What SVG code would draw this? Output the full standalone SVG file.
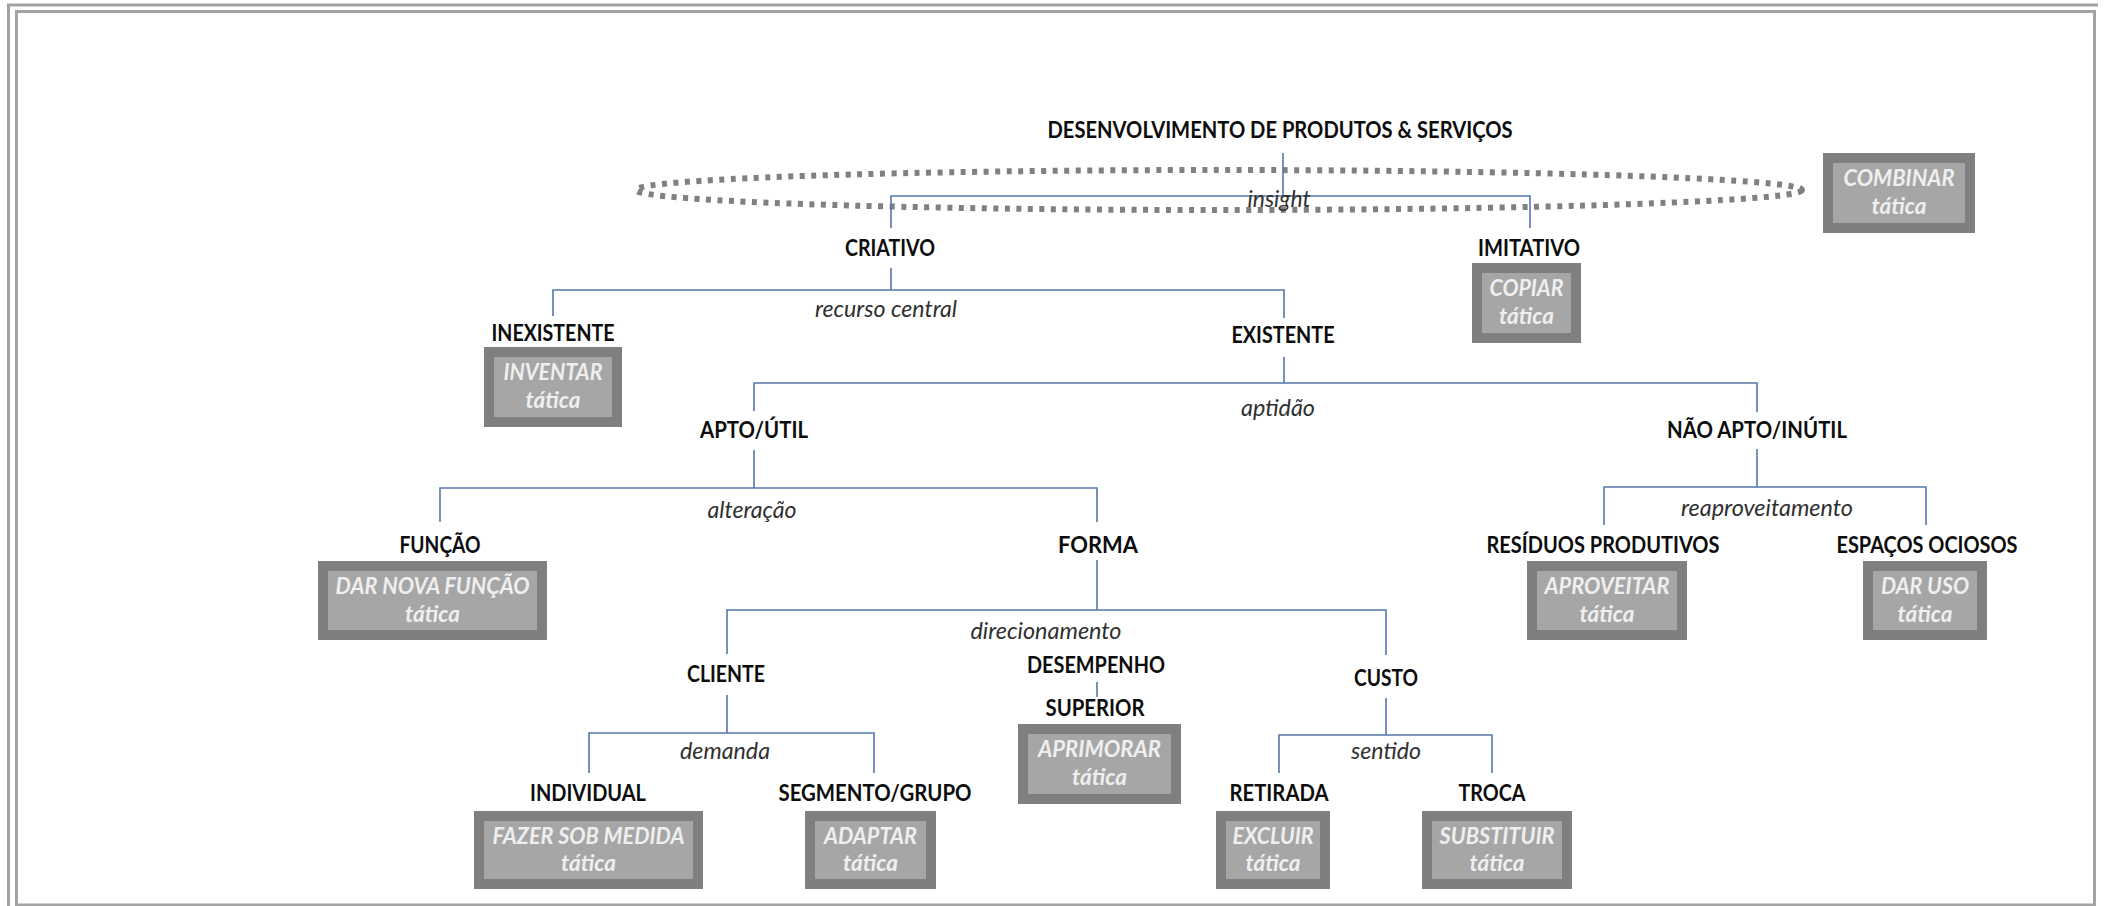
<svg xmlns="http://www.w3.org/2000/svg" width="2105" height="906" viewBox="0 0 2105 906">
<style>
.lbl{font-family:Lato,"Liberation Sans",sans-serif;font-weight:700;font-size:23px;fill:#0d0d0d;text-anchor:middle}
.it{font-family:Lato,"Liberation Sans",sans-serif;font-style:italic;font-weight:400;font-size:22.5px;fill:#303030;text-anchor:middle}
.bo{fill:#7f7f7f}
.bi{fill:#a6a6a6}
.bt{font-family:Lato,"Liberation Sans",sans-serif;font-style:italic;font-weight:700;font-size:23.5px;fill:#efefef;text-anchor:middle}
.cn{stroke:#5677ac;stroke-width:1.6;fill:none}
.frame{fill:none;stroke:#a3a3a3;stroke-width:3}
</style>
<rect x="0" y="0" width="2105" height="906" fill="#ffffff"/>
<g id="frame">
<path class="frame" d="M8.5,906 V5 H2098"/>
<rect class="frame" x="16.5" y="11.5" width="2078" height="893.5"/>
</g>
<g id="insight-ellipse">
<ellipse cx="1219" cy="190" rx="583" ry="20" fill="none" stroke="#808080" stroke-width="6" stroke-dasharray="5 6.5"/>
</g>
<g id="connectors">
<path class="cn" d="M1283,153 V196 M891,228 V196 H1530 V228"/>
<path class="cn" d="M891,268 V290 M553,316 V290 H1284 V318"/>
<path class="cn" d="M1284,357 V383 M754,411 V383 H1757 V412"/>
<path class="cn" d="M754,450 V488 M440,522 V488 H1097 V522"/>
<path class="cn" d="M1757,449 V487 M1604,525 V487 H1926 V525"/>
<path class="cn" d="M1097,560 V610 M727,654 V610 H1386 V655"/>
<path class="cn" d="M1097,682 V697"/>
<path class="cn" d="M727,695 V733 M589,773 V733 H874 V773"/>
<path class="cn" d="M1386,698 V735 M1279,773 V735 H1492 V773"/>
</g>
<g id="edge-labels">
<text class="it" x="1279" y="207" textLength="63" lengthAdjust="spacingAndGlyphs">insight</text>
<text class="it" x="886" y="317" textLength="142" lengthAdjust="spacingAndGlyphs">recurso central</text>
<text class="it" x="1278" y="416" textLength="74" lengthAdjust="spacingAndGlyphs">aptidão</text>
<text class="it" x="752" y="518" textLength="89" lengthAdjust="spacingAndGlyphs">alteração</text>
<text class="it" x="1767" y="516" textLength="172" lengthAdjust="spacingAndGlyphs">reaproveitamento</text>
<text class="it" x="1046" y="639" textLength="151" lengthAdjust="spacingAndGlyphs">direcionamento</text>
<text class="it" x="725" y="759" textLength="90" lengthAdjust="spacingAndGlyphs">demanda</text>
<text class="it" x="1386" y="759" textLength="70" lengthAdjust="spacingAndGlyphs">sentido</text>
</g>
<g id="node-root">
<text class="lbl" x="1280" y="138" textLength="465" lengthAdjust="spacingAndGlyphs">DESENVOLVIMENTO DE PRODUTOS &amp; SERVIÇOS</text>
</g>
<g id="node-combinar">
<rect class="bo" x="1823" y="153" width="152" height="80"/>
<rect class="bi" x="1833" y="163" width="132" height="60"/>
<text class="bt" x="1899" y="186" textLength="111" lengthAdjust="spacingAndGlyphs">COMBINAR</text>
<text class="bt" x="1899" y="214" textLength="55" lengthAdjust="spacingAndGlyphs">tática</text>
</g>
<g id="node-criativo">
<text class="lbl" x="890" y="256" textLength="90" lengthAdjust="spacingAndGlyphs">CRIATIVO</text>
</g>
<g id="node-imitativo">
<text class="lbl" x="1529" y="256" textLength="102" lengthAdjust="spacingAndGlyphs">IMITATIVO</text>
<rect class="bo" x="1472" y="263" width="109" height="80"/>
<rect class="bi" x="1482" y="273" width="89" height="60"/>
<text class="bt" x="1526.5" y="296" textLength="74" lengthAdjust="spacingAndGlyphs">COPIAR</text>
<text class="bt" x="1526.5" y="324" textLength="55" lengthAdjust="spacingAndGlyphs">tática</text>
</g>
<g id="node-inexistente">
<text class="lbl" x="553" y="341" textLength="123" lengthAdjust="spacingAndGlyphs">INEXISTENTE</text>
<rect class="bo" x="484" y="347" width="138" height="80"/>
<rect class="bi" x="494" y="357" width="118" height="60"/>
<text class="bt" x="553" y="380" textLength="99" lengthAdjust="spacingAndGlyphs">INVENTAR</text>
<text class="bt" x="553" y="408" textLength="55" lengthAdjust="spacingAndGlyphs">tática</text>
</g>
<g id="node-existente">
<text class="lbl" x="1283" y="343" textLength="103" lengthAdjust="spacingAndGlyphs">EXISTENTE</text>
</g>
<g id="node-apto">
<text class="lbl" x="754" y="438" textLength="108" lengthAdjust="spacingAndGlyphs">APTO/ÚTIL</text>
</g>
<g id="node-nao-apto">
<text class="lbl" x="1757" y="438" textLength="180" lengthAdjust="spacingAndGlyphs">NÃO APTO/INÚTIL</text>
</g>
<g id="node-funcao">
<text class="lbl" x="440" y="553" textLength="81" lengthAdjust="spacingAndGlyphs">FUNÇÃO</text>
<rect class="bo" x="318" y="561" width="229" height="79"/>
<rect class="bi" x="328" y="571" width="209" height="59"/>
<text class="bt" x="432.5" y="594" textLength="194" lengthAdjust="spacingAndGlyphs">DAR NOVA FUNÇÃO</text>
<text class="bt" x="432.5" y="622" textLength="55" lengthAdjust="spacingAndGlyphs">tática</text>
</g>
<g id="node-forma">
<text class="lbl" x="1098" y="553" textLength="80" lengthAdjust="spacingAndGlyphs">FORMA</text>
</g>
<g id="node-residuos">
<text class="lbl" x="1603" y="553" textLength="233" lengthAdjust="spacingAndGlyphs">RESÍDUOS PRODUTIVOS</text>
<rect class="bo" x="1527" y="561" width="160" height="79"/>
<rect class="bi" x="1537" y="571" width="140" height="59"/>
<text class="bt" x="1607" y="594" textLength="125" lengthAdjust="spacingAndGlyphs">APROVEITAR</text>
<text class="bt" x="1607" y="622" textLength="55" lengthAdjust="spacingAndGlyphs">tática</text>
</g>
<g id="node-espacos">
<text class="lbl" x="1927" y="553" textLength="181" lengthAdjust="spacingAndGlyphs">ESPAÇOS OCIOSOS</text>
<rect class="bo" x="1863" y="561" width="124" height="79"/>
<rect class="bi" x="1873" y="571" width="104" height="59"/>
<text class="bt" x="1925" y="594" textLength="88" lengthAdjust="spacingAndGlyphs">DAR USO</text>
<text class="bt" x="1925" y="622" textLength="55" lengthAdjust="spacingAndGlyphs">tática</text>
</g>
<g id="node-cliente">
<text class="lbl" x="726" y="682" textLength="78" lengthAdjust="spacingAndGlyphs">CLIENTE</text>
</g>
<g id="node-desempenho">
<text class="lbl" x="1096" y="673" textLength="138" lengthAdjust="spacingAndGlyphs">DESEMPENHO</text>
</g>
<g id="node-superior">
<text class="lbl" x="1095" y="716" textLength="99" lengthAdjust="spacingAndGlyphs">SUPERIOR</text>
<rect class="bo" x="1018" y="724" width="163" height="80"/>
<rect class="bi" x="1028" y="734" width="143" height="60"/>
<text class="bt" x="1099.5" y="757" textLength="123" lengthAdjust="spacingAndGlyphs">APRIMORAR</text>
<text class="bt" x="1099.5" y="785" textLength="55" lengthAdjust="spacingAndGlyphs">tática</text>
</g>
<g id="node-custo">
<text class="lbl" x="1386" y="686" textLength="64" lengthAdjust="spacingAndGlyphs">CUSTO</text>
</g>
<g id="node-individual">
<text class="lbl" x="588" y="801" textLength="116" lengthAdjust="spacingAndGlyphs">INDIVIDUAL</text>
<rect class="bo" x="474" y="811" width="229" height="78"/>
<rect class="bi" x="484" y="821" width="209" height="58"/>
<text class="bt" x="588.5" y="844" textLength="192" lengthAdjust="spacingAndGlyphs">FAZER SOB MEDIDA</text>
<text class="bt" x="588.5" y="871" textLength="55" lengthAdjust="spacingAndGlyphs">tática</text>
</g>
<g id="node-segmento">
<text class="lbl" x="875" y="801" textLength="193" lengthAdjust="spacingAndGlyphs">SEGMENTO/GRUPO</text>
<rect class="bo" x="805" y="811" width="131" height="78"/>
<rect class="bi" x="815" y="821" width="111" height="58"/>
<text class="bt" x="870.5" y="844" textLength="93" lengthAdjust="spacingAndGlyphs">ADAPTAR</text>
<text class="bt" x="870.5" y="871" textLength="55" lengthAdjust="spacingAndGlyphs">tática</text>
</g>
<g id="node-retirada">
<text class="lbl" x="1279" y="801" textLength="99" lengthAdjust="spacingAndGlyphs">RETIRADA</text>
<rect class="bo" x="1216" y="811" width="114" height="78"/>
<rect class="bi" x="1226" y="821" width="94" height="58"/>
<text class="bt" x="1273" y="844" textLength="81" lengthAdjust="spacingAndGlyphs">EXCLUIR</text>
<text class="bt" x="1273" y="871" textLength="55" lengthAdjust="spacingAndGlyphs">tática</text>
</g>
<g id="node-troca">
<text class="lbl" x="1492" y="801" textLength="67" lengthAdjust="spacingAndGlyphs">TROCA</text>
<rect class="bo" x="1422" y="811" width="150" height="78"/>
<rect class="bi" x="1432" y="821" width="130" height="58"/>
<text class="bt" x="1497" y="844" textLength="115" lengthAdjust="spacingAndGlyphs">SUBSTITUIR</text>
<text class="bt" x="1497" y="871" textLength="55" lengthAdjust="spacingAndGlyphs">tática</text>
</g>
</svg>
